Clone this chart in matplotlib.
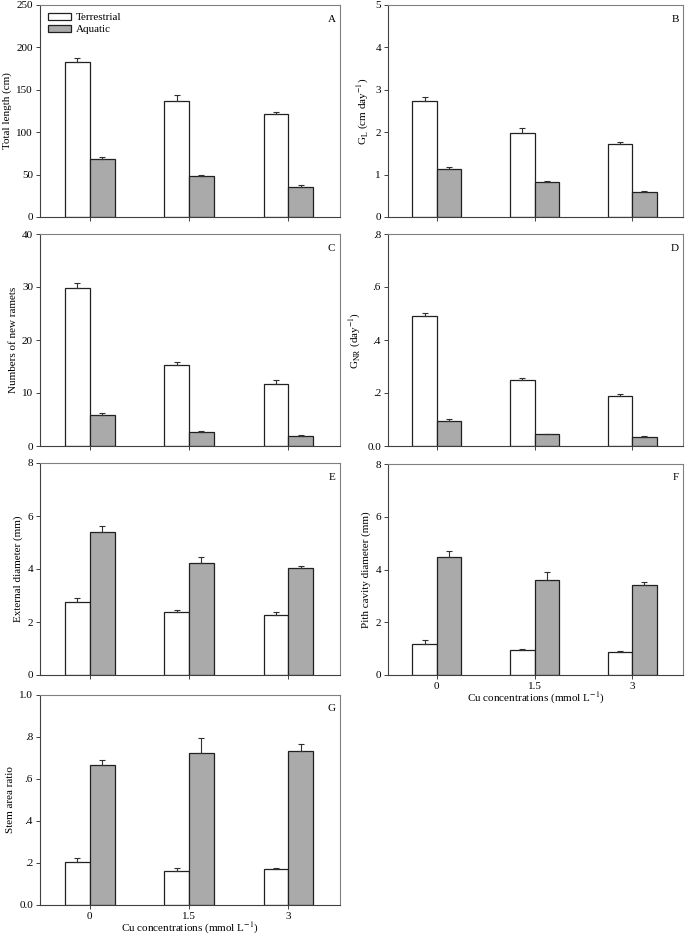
import numpy as np
import matplotlib
matplotlib.use("Agg")
import matplotlib.pyplot as plt

plt.rcParams['font.family'] = ['Liberation Serif', 'DejaVu Serif']
plt.rcParams['mathtext.fontset'] = 'stix'

# data (mean, SE)
cu = ["0", "1.5", "3"]

len_terr = [183, 137, 121]
len_terr_se = [5, 7, 3]
len_aqua = [68, 48, 35.5]
len_aqua_se = [3, 2, 2]

gl_terr = [2.73, 1.97, 1.71]
gl_terr_se = [0.09, 0.13, 0.06]
gl_aqua = [1.14, 0.82, 0.60]
gl_aqua_se = [0.05, 0.03, 0.02]

ram_terr = [29.9, 15.2, 11.7]
ram_terr_se = [0.9, 0.7, 0.75]
ram_aqua = [5.8, 2.6, 1.95]
ram_aqua_se = [0.5, 0.2, 0.15]

gnr_terr = [0.489, 0.249, 0.187]
gnr_terr_se = [0.012, 0.009, 0.011]
gnr_aqua = [0.096, 0.044, 0.033]
gnr_aqua_se = [0.007, 0.003, 0.003]

ext_terr = [2.75, 2.37, 2.27]
ext_terr_se = [0.15, 0.09, 0.09]
ext_aqua = [5.40, 4.24, 4.02]
ext_aqua_se = [0.22, 0.23, 0.10]

pith_terr = [1.16, 0.94, 0.88]
pith_terr_se = [0.15, 0.06, 0.04]
pith_aqua = [4.49, 3.59, 3.43]
pith_aqua_se = [0.23, 0.33, 0.11]

sar_terr = [0.205, 0.160, 0.170]
sar_terr_se = [0.017, 0.015, 0.008]
sar_aqua = [0.665, 0.726, 0.734]
sar_aqua_se = [0.027, 0.07, 0.035]

W, H = 685, 938
fig = plt.figure(figsize=(W / 100, H / 100), dpi=100)

def box(x0, top, x1, bot):
    return [x0 / W, 1 - bot / H, (x1 - x0) / W, (bot - top) / H]

xlab = r"Cu concentrations (mmol L$^{\mathrm{-1}}$)"
fs = 8
x = np.arange(3)
bw = 0.25

def panel(rect, terr, terr_se, aqua, aqua_se, ymax, yticks, yticklabels,
          ylabel, letter, show_x=False, legend=False):
    ax = fig.add_axes(rect)
    ekw = dict(lw=0.8, capsize=2.5, capthick=0.8, ecolor='#303030')
    ax.bar(x - bw / 2, terr, bw, color='white', edgecolor='#202020', lw=0.9,
           yerr=[np.zeros(3), terr_se], error_kw=ekw, label='Terrestrial', zorder=2)
    ax.bar(x + bw / 2, aqua, bw, color='#aaaaaa', edgecolor='#202020', lw=0.9,
           yerr=[np.zeros(3), aqua_se], error_kw=ekw, label='Aquatic', zorder=2)
    ax.set_xlim(-0.5, 2.52)
    ax.set_ylim(0, ymax)
    ax.set_yticks(yticks)
    ax.set_yticklabels(yticklabels, fontsize=fs)
    ax.set_xticks(x)
    if show_x:
        ax.set_xticklabels(cu, fontsize=fs)
        ax.set_xlabel(xlab, fontsize=fs, labelpad=0)
    else:
        ax.set_xticklabels([])
    ax.tick_params(direction='out', length=3, width=0.7, pad=2, color='#404040')
    ax.set_ylabel(ylabel, fontsize=fs, labelpad=3)
    for s in ['left', 'bottom']:
        ax.spines[s].set_color('#404040')
        ax.spines[s].set_linewidth(0.8)
    for s in ['top', 'right']:
        ax.spines[s].set_color('#808080')
        ax.spines[s].set_linewidth(0.8)
    ax.text(0.985, 0.955, letter, transform=ax.transAxes, ha='right', va='top',
            fontsize=fs)
    if legend:
        ax.legend(loc='upper left', frameon=False, fontsize=fs,
                  handlelength=2.1, handleheight=0.6, borderaxespad=0.3,
                  labelspacing=0.25, handletextpad=0.4)
    return ax

LX0, LX1 = 40, 340
RX0, RX1 = 388, 683

panel(box(LX0, 5, LX1, 217), len_terr, len_terr_se, len_aqua, len_aqua_se,
      250, [0, 50, 100, 150, 200, 250], ["0", "50", "100", "150", "200", "250"],
      "Total length (cm)", "A", legend=True)
panel(box(RX0, 5, RX1, 217), gl_terr, gl_terr_se, gl_aqua, gl_aqua_se,
      5, [0, 1, 2, 3, 4, 5], ["0", "1", "2", "3", "4", "5"],
      r"G$_{\mathrm{L}}$ (cm day$^{\mathrm{-1}}$)", "B")
panel(box(LX0, 234, LX1, 446), ram_terr, ram_terr_se, ram_aqua, ram_aqua_se,
      40, [0, 10, 20, 30, 40], ["0", "10", "20", "30", "40"],
      "Numbers of new ramets", "C")
panel(box(RX0, 234, RX1, 446), gnr_terr, gnr_terr_se, gnr_aqua, gnr_aqua_se,
      0.8, [0, 0.2, 0.4, 0.6, 0.8], ["0.0", ".2", ".4", ".6", ".8"],
      r"G$_{\mathrm{NR}}$ (day$^{\mathrm{-1}}$)", "D")
panel(box(LX0, 463, LX1, 675), ext_terr, ext_terr_se, ext_aqua, ext_aqua_se,
      8, [0, 2, 4, 6, 8], ["0", "2", "4", "6", "8"],
      "External diameter (mm)", "E")
panel(box(RX0, 464, RX1, 675), pith_terr, pith_terr_se, pith_aqua, pith_aqua_se,
      8, [0, 2, 4, 6, 8], ["0", "2", "4", "6", "8"],
      "Pith cavity diameter (mm)", "F", show_x=True)
panel(box(LX0, 695, LX1, 905), sar_terr, sar_terr_se, sar_aqua, sar_aqua_se,
      1.0, [0, 0.2, 0.4, 0.6, 0.8, 1.0], ["0.0", ".2", ".4", ".6", ".8", "1.0"],
      "Stem area ratio", "G", show_x=True)

fig.savefig("out.png", dpi=100)
